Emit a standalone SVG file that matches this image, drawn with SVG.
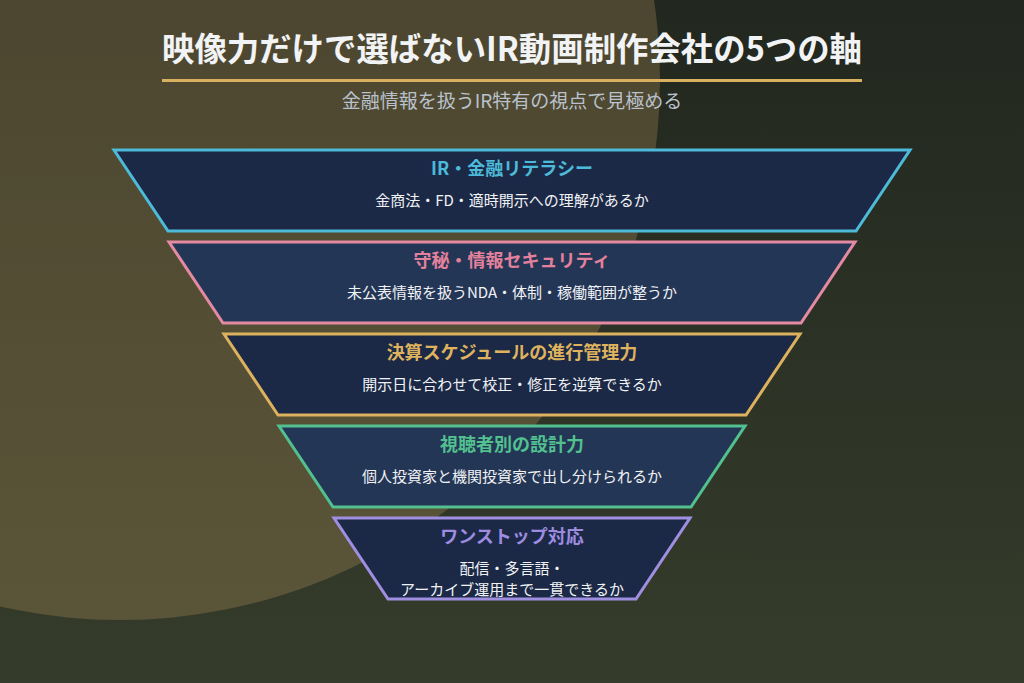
<svg xmlns="http://www.w3.org/2000/svg" width="1024" height="683" viewBox="0 0 1024 683">
<defs>
<linearGradient id="bg" x1="0" y1="0" x2="0" y2="1">
<stop offset="0" stop-color="#22271f"/>
<stop offset="1" stop-color="#363c2b"/>
</linearGradient>
<style>
text{font-family:"Noto Sans CJK JP","Noto Sans",sans-serif;text-anchor:middle}
.title{font-size:33px;font-weight:700;fill:#f2f3f5}
.subtitle{font-size:19px;fill:#b9c1cc}
.h{font-size:18px;font-weight:700}
.d{font-size:15px;fill:#f0f2f5}
.dark{fill:#1b2946}
.light{fill:#243656}
.tier polygon{stroke-width:3;stroke-linejoin:miter}
</style>
</defs>
<rect width="1024" height="683" fill="url(#bg)"/>
<circle cx="120" cy="80" r="540" fill="#caa163" fill-opacity="0.26"/>

<g id="header">
<text class="title" x="512" y="61" textLength="700" lengthAdjust="spacingAndGlyphs">映像力だけで選ばないIR動画制作会社の5つの軸</text>
<rect x="162" y="79" width="700" height="3" fill="#d9b060"/>
<text class="subtitle" x="512" y="108">金融情報を扱うIR特有の視点で見極める</text>
</g>

<g id="connectors"/>

<g id="tier1" class="tier">
<polygon class="dark" points="114,150 910,150 856,231 168,231" stroke="#4cbad8"/>
<text class="h" x="512" y="175" fill="#4cbad8">IR・金融リテラシー</text>
<text class="d" x="512" y="206">金商法・FD・適時開示への理解があるか</text>
</g>

<g id="tier2" class="tier">
<polygon class="light" points="169,242 855,242 801,323 223,323" stroke="#e48aa2"/>
<text class="h" x="512" y="267" fill="#e3819c">守秘・情報セキュリティ</text>
<text class="d" x="512" y="298">未公表情報を扱うNDA・体制・稼働範囲が整うか</text>
</g>

<g id="tier3" class="tier">
<polygon class="dark" points="224,334 800,334 746,415 278,415" stroke="#dcb25e"/>
<text class="h" x="512" y="359" fill="#dfb35e">決算スケジュールの進行管理力</text>
<text class="d" x="512" y="390">開示日に合わせて校正・修正を逆算できるか</text>
</g>

<g id="tier4" class="tier">
<polygon class="light" points="279,426 745,426 691,507 333,507" stroke="#52c08f"/>
<text class="h" x="512" y="451" fill="#52c08f">視聴者別の設計力</text>
<text class="d" x="512" y="482">個人投資家と機関投資家で出し分けられるか</text>
</g>

<g id="tier5" class="tier">
<polygon class="dark" points="334,518 690,518 636,599 388,599" stroke="#a08fe0"/>
<text class="h" x="512" y="543" fill="#9d8ce0">ワンストップ対応</text>
<text class="d" x="512" y="574">配信・多言語・</text>
<text class="d" x="512" y="595">アーカイブ運用まで一貫できるか</text>
</g>
</svg>
